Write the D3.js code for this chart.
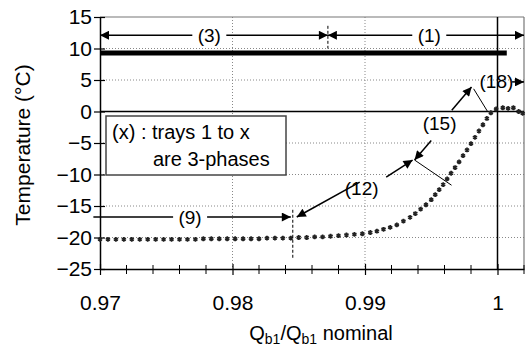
<!DOCTYPE html>
<html>
<head>
<meta charset="utf-8">
<script src="https://cdn.jsdelivr.net/npm/d3@7"></script>
<style>
  body { margin: 0; background: #fff; }
  svg { font-family: "Liberation Sans", Arial, sans-serif; }
</style>
</head>
<body>
<svg id="chart" width="532" height="350"></svg>
<script>
// curve (ratio Qb1/Qb1 nominal -> temperature)
var ratio = [
  0.9700, 0.9706, 0.9712, 0.9718, 0.9724, 0.9730, 0.9736, 0.9742, 0.9748, 0.9754,
  0.9760, 0.9766, 0.9772, 0.9778, 0.9784, 0.9790, 0.9796, 0.9802, 0.9808, 0.9814,
  0.9820, 0.9826, 0.9832, 0.9838, 0.9844, 0.9850, 0.9856, 0.9862, 0.9868, 0.9874,
  0.9880, 0.9886, 0.9892, 0.9898, 0.9904, 0.9909, 0.9914, 0.9919, 0.9924, 0.9929,
  0.9934, 0.9938, 0.9942, 0.9946, 0.9950, 0.9953, 0.9956, 0.9959, 0.9962, 0.9965,
  0.9968, 0.9971, 0.9974, 0.9977, 0.9980, 0.9983, 0.9986, 0.9989, 0.9992, 0.9995,
  0.9999, 1.0004, 1.0008, 1.0012, 1.0016, 1.0019
]
var temp = [
  -20.3, -20.3, -20.3, -20.3, -20.3, -20.3, -20.3, -20.3, -20.3, -20.3,
  -20.3, -20.3, -20.3, -20.2, -20.2, -20.2, -20.2, -20.2, -20.2, -20.2,
  -20.2, -20.1, -20.1, -20.1, -20.1, -20.0, -20.0, -19.9, -19.9, -19.8,
  -19.7, -19.6, -19.5, -19.4, -19.2, -19.0, -18.7, -18.4, -18.0, -17.4,
  -16.8, -16.2, -15.5, -14.8, -14.0, -13.2, -12.4, -11.6, -10.7, -9.8,
  -8.9, -8.0, -7.0, -6.1, -5.1, -4.1, -3.1, -2.1, -1.1, -0.2,
  0.4, 0.6, 0.5, 0.6, 0.0, -0.3
]

var yTicks = [15, 10, 5, 0, -5, -10, -15, -20, -25]
var xTicks = [0.97, 0.98, 0.99, 1]
var xMinor = [0.972, 0.974, 0.976, 0.978, 0.982, 0.984, 0.986, 0.988,
  0.992, 0.994, 0.996, 0.998, 1.002]

// thick reference line (x0, x1, value)
var refLine = [0.97, 1.0007, 9.3]

// range arrows: [x0, x1, y, label, labelX, arrowAtStart, arrowAtEnd]
var ranges = [
  [0.97, 0.9872, 12.1, '(3)', 0.97825, true, true],
  [0.9872, 1.002, 12.1, '(1)', 0.99485, true, true],
  [0.9695, 0.9844, -16.75, '(9)', 0.9768, false, true]
]
// pointer labels and the arrows drawn out of them
var pointers = [
  { label: '(12)', x: 0.98975, y: -12.1,
    to: [[0.98485, -16.75, 0.9896, -11.2], [0.99359, -7.7, 0.9916, -10.4]] },
  { label: '(15)', x: 0.99563, y: -1.8,
    to: [[0.99374, -7.7, 0.9950, -4.6], [0.99804, 3.9, 0.99655, 0.2]] },
  { label: '(18)', x: 0.99992, y: 4.8,
    to: [[1.002, 4.7, 1.0011, 4.7]] }
]
// thin boundary marks: [x0, y0, x1, y1, dashed]
var marks = [
  [0.9872, 13.6, 0.9872, 10.0, true],
  [0.98455, -15.6, 0.98455, -23.3, true],
  [0.99374, -7.7, 0.99653, -11.7, false],
  [0.99820, 3.6, 0.99925, 0.0, false]
]

function drawChart() {
  var svg = d3.select('#chart')
  var mLeft = 100, mRight = 524, mTop = 17, mBottom = 269

  var x = d3.scaleLinear().domain([0.97, 1.002]).range([mLeft, mRight])
  var y = d3.scaleLinear().domain([-25, 15]).range([mBottom, mTop])

  svg.append('defs').append('marker')
    .attr('id', 'head')
    .attr('viewBox', '0 0 10 10')
    .attr('refX', 10).attr('refY', 5)
    .attr('markerWidth', 11).attr('markerHeight', 9)
    .attr('markerUnits', 'userSpaceOnUse')
    .attr('orient', 'auto-start-reverse')
    .append('path').attr('d', 'M0,0 L10,5 L0,10 Z').attr('fill', '#000')

  // grid
  var g = svg.append('g')
  g.selectAll('.hgrid')
    .data(yTicks.filter(function(d) { return d !== 0 && d !== 15 && d !== -25 }))
    .enter().append('line')
    .attr('x1', mLeft).attr('x2', mRight)
    .attr('y1', function(d) { return y(d) }).attr('y2', function(d) { return y(d) })
    .attr('stroke', '#888').attr('stroke-dasharray', '1,2')
  g.selectAll('.vgrid')
    .data([0.98, 0.99])
    .enter().append('line')
    .attr('x1', function(d) { return x(d) }).attr('x2', function(d) { return x(d) })
    .attr('y1', mTop).attr('y2', mBottom)
    .attr('stroke', '#888').attr('stroke-dasharray', '1,2')

  // frame top/right
  g.append('line').attr('x1', mLeft).attr('x2', mRight).attr('y1', mTop).attr('y2', mTop)
    .attr('stroke', '#777').attr('stroke-width', 1.2)
  g.append('line').attr('x1', mRight).attr('x2', mRight).attr('y1', mTop).attr('y2', mBottom)
    .attr('stroke', '#777').attr('stroke-width', 1.2)

  // zero line and x = 1 line
  g.append('line').attr('x1', mLeft).attr('x2', mRight).attr('y1', y(0)).attr('y2', y(0))
    .attr('stroke', '#000').attr('stroke-width', 1.5)
  g.append('line').attr('x1', x(1)).attr('x2', x(1)).attr('y1', mTop).attr('y2', mBottom)
    .attr('stroke', '#000').attr('stroke-width', 1.5)

  // thick line
  g.append('line')
    .attr('x1', x(refLine[0])).attr('x2', x(refLine[1]))
    .attr('y1', y(refLine[2])).attr('y2', y(refLine[2]))
    .attr('stroke', '#000').attr('stroke-width', 5)

  // axes
  var yAxis = d3.axisLeft(y).tickValues(yTicks).tickSizeInner(6).tickSizeOuter(0)
    .tickFormat(d3.format('d'))
  var ya = svg.append('g').attr('transform', 'translate(' + mLeft + ',0)').call(yAxis)
  ya.attr('font-size', 21).attr('font-family', null)
  ya.selectAll('.tick line').attr('x1', 5).attr('x2', -6).attr('stroke-width', 1.2)
  ya.select('.domain').attr('stroke-width', 1.5)
  ya.selectAll('text').attr('x', -8).attr('fill', '#000')

  var xAxis = d3.axisBottom(x).tickValues(xTicks).tickSizeInner(6).tickSizeOuter(0)
    .tickFormat(d3.format(''))
  var xa = svg.append('g').attr('transform', 'translate(0,' + mBottom + ')').call(xAxis)
  xa.attr('font-size', 21).attr('font-family', null)
  xa.selectAll('.tick line').attr('y1', -5).attr('y2', 6).attr('stroke-width', 1.2)
  xa.select('.domain').attr('stroke-width', 1.5)
  xa.selectAll('text').attr('y', 26).attr('fill', '#000')
  xa.selectAll('.minor').data(xMinor).enter().append('line')
    .attr('x1', function(d) { return x(d) }).attr('x2', function(d) { return x(d) })
    .attr('y1', -4).attr('y2', 5).attr('stroke', '#000').attr('stroke-width', 1)

  // curve markers
  var pts = ratio.map(function(r, i) { return [r, temp[i]] })
  svg.append('g').selectAll('path').data(pts).enter().append('path')
    .attr('transform', function(d) { return 'translate(' + x(d[0]) + ',' + y(d[1]) + ')' })
    .attr('d', d3.symbol(d3.symbolAsterisk, 16))
    .attr('fill', 'none').attr('stroke', '#222').attr('stroke-width', 1.7)

  // boundary marks
  svg.append('g').selectAll('line').data(marks).enter().append('line')
    .attr('x1', function(d) { return x(d[0]) }).attr('y1', function(d) { return y(d[1]) })
    .attr('x2', function(d) { return x(d[2]) }).attr('y2', function(d) { return y(d[3]) })
    .attr('stroke', '#000').attr('stroke-width', 1)
    .attr('stroke-dasharray', function(d) { return d[4] ? '3,2' : null })

  // range arrows
  var ann = svg.append('g').attr('font-size', 19).attr('text-anchor', 'middle')
  ranges.forEach(function(r) {
    var lx = x(r[4]), gap = 17
    ann.append('line')
      .attr('x1', x(r[0])).attr('x2', lx - gap).attr('y1', y(r[2])).attr('y2', y(r[2]))
      .attr('stroke', '#000').attr('stroke-width', 1.5)
      .attr('marker-start', r[5] ? 'url(#head)' : null)
    ann.append('line')
      .attr('x1', lx + gap).attr('x2', x(r[1])).attr('y1', y(r[2])).attr('y2', y(r[2]))
      .attr('stroke', '#000').attr('stroke-width', 1.5)
      .attr('marker-end', r[6] ? 'url(#head)' : null)
    ann.append('text').attr('x', lx).attr('y', y(r[2]) + 7).text(r[3])
  })

  pointers.forEach(function(p) {
    ann.append('text').attr('x', x(p.x)).attr('y', y(p.y) + 7).text(p.label)
    p.to.forEach(function(t) {
      ann.append('line')
        .attr('x1', x(t[2])).attr('y1', y(t[3]))
        .attr('x2', x(t[0])).attr('y2', y(t[1]))
        .attr('stroke', '#000').attr('stroke-width', 1.5)
        .attr('marker-end', 'url(#head)')
    })
  })

  // legend box
  var lg = svg.append('g')
  lg.append('rect').attr('x', 106).attr('y', 116).attr('width', 180).attr('height', 59)
    .attr('fill', '#fff').attr('stroke', '#444').attr('stroke-width', 1.5)
  lg.append('text').attr('x', 112).attr('y', 139).attr('font-size', 20).text('(x) : trays 1 to x')
  lg.append('text').attr('x', 153).attr('y', 166).attr('font-size', 20).text('are 3-phases')

  // axis titles
  svg.append('text')
    .attr('transform', 'translate(30,145) rotate(-90)')
    .attr('text-anchor', 'middle').attr('font-size', 21)
    .text('Temperature (°C)')

  var xt = svg.append('text').attr('x', 321).attr('y', 340)
    .attr('text-anchor', 'middle').attr('font-size', 20)
  xt.append('tspan').text('Q')
  xt.append('tspan').attr('font-size', 14).attr('dy', 4).text('b1')
  xt.append('tspan').attr('dy', -4).text('/Q')
  xt.append('tspan').attr('font-size', 14).attr('dy', 4).text('b1')
  xt.append('tspan').attr('dy', -4).text(' nominal')
}

drawChart()
</script>
</body>
</html>
